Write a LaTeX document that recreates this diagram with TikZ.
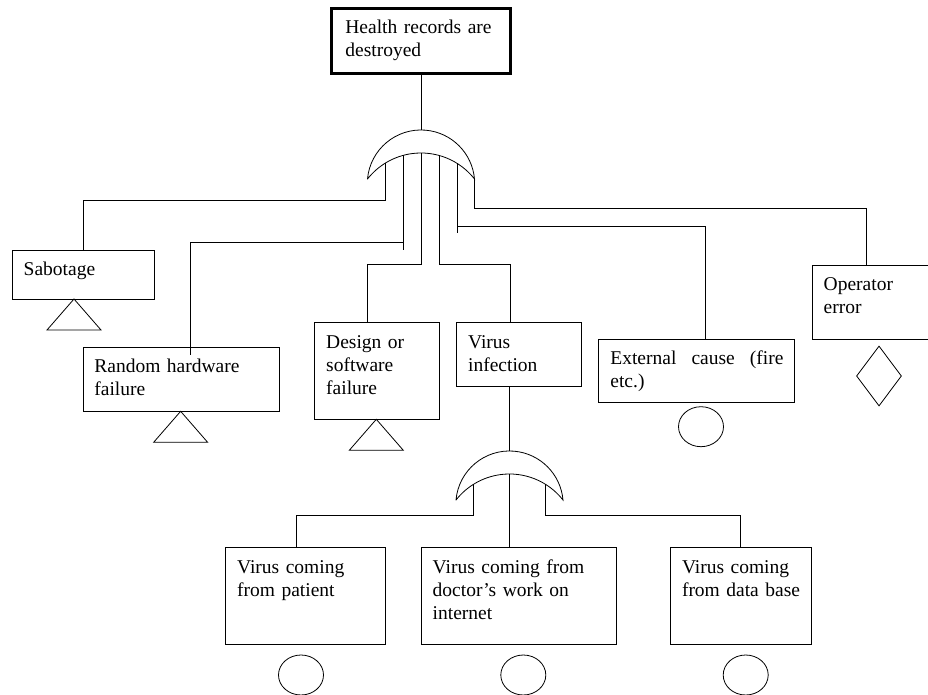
\documentclass[tikz,border=0pt]{standalone}
\usepackage{fontspec}
\setmainfont{Liberation Serif}
\usetikzlibrary{shapes.geometric}

\tikzset{
  evbox/.style={draw, rectangle, inner sep=0pt, outer sep=0pt, anchor=north west},
  topbox/.style={evbox, line width=3pt},
  lbl/.style={anchor=base west, inner sep=0pt, text width=185pt, align=left,
              font=\fontsize{19.5}{23}\selectfont},
  basic/.style={draw, ellipse, minimum width=45pt, minimum height=40pt, inner sep=0pt},
  undeveloped/.style={draw, diamond, minimum width=45pt, minimum height=60pt, inner sep=0pt},
  % OR gate: crescent drawn from its two tips, origin between the tips
  orgate/.pic={
    \draw[fill=white] (-53.5,0) arc[start angle=175, end angle=5, radius=53.7pt]
      arc[start angle=38.13, end angle=141.87, radius=68pt] -- cycle;
    \coordinate (-out) at (0,49);
    \coordinate (-l1) at (-36,15.7);
    \coordinate (-l2) at (-18,23.6);
    \coordinate (-m)  at (0,26);
    \coordinate (-r2) at (18,23.6);
    \coordinate (-r1) at (36,15.7);
    \coordinate (-tr) at (53.5,0);
  },
  % transfer triangle hanging from its apex
  xfer/.pic={
    \draw (0,0) -- (-27,-31) -- (27,-31) -- cycle;
  }
}

\begin{document}
\begin{tikzpicture}[x=1pt,y=1pt,line width=0.8pt]
\useasboundingbox (0,0) rectangle (928,-695);
\clip (0,0) rectangle (928,-695);

% top event
\node[topbox, minimum width=178.6pt, minimum height=64.3pt] (top) at (331.7,-9) {};
\node[lbl] (top-t) at ([xshift=13.3pt,yshift=-24.3pt]top.north west) {Health records are\\destroyed};

% first level events
\node[evbox, minimum width=142.4pt, minimum height=48.3pt] (sab) at (12.3,-250.7) {};
\node[lbl] (sab-t) at ([xshift=11pt,yshift=-25pt]sab.north west) {Sabotage};

\node[evbox, minimum width=196.3pt, minimum height=63.6pt] (rhw) at (83,-347.7) {};
\node[lbl] (rhw-t) at ([xshift=11pt,yshift=-25pt]rhw.north west) {Random hardware\\failure};

\node[evbox, minimum width=125pt, minimum height=96.6pt] (dsn) at (314.3,-322.7) {};
\node[lbl] (dsn-t) at ([xshift=11.5pt,yshift=-25.5pt]dsn.north west) {Design or\\software\\failure};

\node[evbox, minimum width=125pt, minimum height=64pt] (vir) at (456.7,-322.7) {};
\node[lbl] (vir-t) at ([xshift=11pt,yshift=-25.5pt]vir.north west) {Virus\\infection};

\node[evbox, minimum width=195.6pt, minimum height=63.7pt] (ext) at (598.7,-339) {};
\node[lbl] (ext-t) at ([xshift=11.3pt,yshift=-25pt]ext.north west)
  {\hbox to 173pt{External\hfill cause\hfill (fire}\\etc.)};

\node[evbox, minimum width=130pt, minimum height=74pt] (op) at (812.3,-265.3) {};
\node[lbl] (op-t) at ([xshift=11pt,yshift=-24.7pt]op.north west) {Operator\\error};

% second level events
\node[evbox, minimum width=160pt, minimum height=96.6pt] (vp) at (225.7,-547.7) {};
\node[lbl] (vp-t) at ([xshift=11pt,yshift=-25.6pt]vp.north west) {Virus coming\\from patient};

\node[evbox, minimum width=195.7pt, minimum height=96.6pt] (vd) at (421,-547.7) {};
\node[lbl] (vd-t) at ([xshift=11.3pt,yshift=-25.6pt]vd.north west) {Virus coming from\\doctor’s work on\\internet};

\node[evbox, minimum width=140.7pt, minimum height=96.6pt] (vdb) at (670.3,-547.7) {};
\node[lbl] (vdb-t) at ([xshift=11.3pt,yshift=-25.6pt]vdb.north west) {Virus coming\\from data base};

% gates
\pic (g1) at (421,-179) {orgate};
\pic (g2) at (509.5,-500) {orgate};

% connectors of the top gate
\draw (top.south) -- (g1-out);
\draw (g1-l1) |- ([yshift=50pt]sab.north) -- (sab.north);
\draw (g1-l2) -- ++(0,-94.6);
\draw ([yshift=-86.9pt]g1-l2) -| ([xshift=8.8pt,yshift=-7.3pt]rhw.north);
\draw (g1-m) |- ([xshift=-9pt,yshift=58.4pt]dsn.north) -- ([xshift=-9pt]dsn.north);
\draw (g1-r2) |- ([xshift=-9.2pt,yshift=58.4pt]vir.north) -- ([xshift=-9.2pt]vir.north);
\draw (g1-r1) -- ++(0,-70);
\draw ([yshift=-63.4pt]g1-r1) -| ([xshift=8.8pt]ext.north);
\draw (g1-tr) |- ([xshift=53.7pt,yshift=57pt]op.north west) -- ([xshift=53.7pt]op.north west);

% connectors of the virus gate
\draw (g2-out |- vir.south) -- (g2-out);
\draw (g2-l1) |- ([xshift=-9pt,yshift=32.7pt]vp.north) -- ([xshift=-9pt]vp.north);
\draw (g2-m) -- (g2-m |- vd.north);
\draw (g2-r1) |- ([yshift=32.7pt]vdb.north) -- (vdb.north);

% event symbols
\pic at ([xshift=-9.5pt]sab.south) {xfer};
\pic at ([xshift=-0.5pt]rhw.south) {xfer};
\pic at ([xshift=-0.5pt]dsn.south) {xfer};
\node[basic] (ext-c) at (701,-426.7) {};
\node[undeveloped] (op-d) at (879,-376) {};
\node[basic] (vp-c) at (301,-675) {};
\node[basic] (vd-c) at (523.3,-675) {};
\node[basic] (vdb-c) at (745.7,-675) {};
\end{tikzpicture}
\end{document}
